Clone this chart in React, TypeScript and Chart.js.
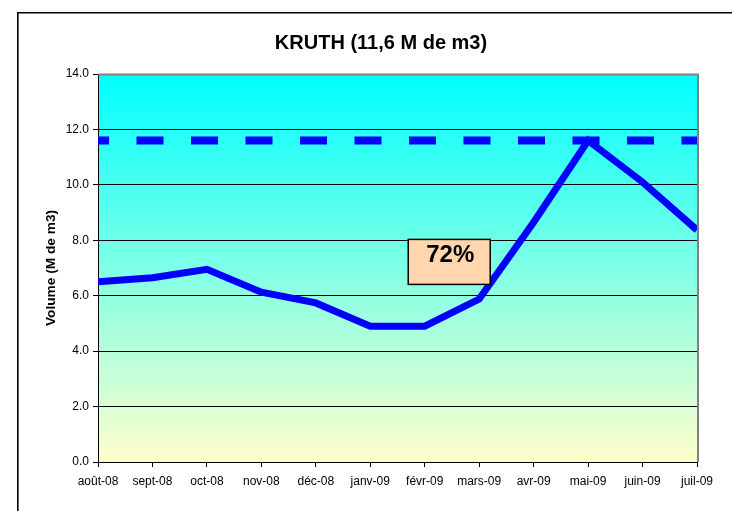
import React, { useEffect, useRef } from "react";
import { Chart, registerables } from "chart.js";

Chart.register(...registerables);

const FONT = "'Liberation Sans', Arial, sans-serif";

const months = ["août-08", "sept-08", "oct-08", "nov-08", "déc-08", "janv-09", "févr-09", "mars-09", "avr-09", "mai-09", "juin-09", "juil-09"];
const volumes = [6.5, 6.65, 6.95, 6.13, 5.74, 4.9, 4.9, 5.88, 8.65, 11.6, 10.1, 8.37];
const capacity = 11.6;
const capacityLine = months.map(() => capacity);
const yTicks = [0, 2, 4, 6, 8, 10, 12, 14];
const chartTitle = "KRUTH (11,6 M de m3)";
const yTitle = "Volume (M de m3)";
const fillLabel = "72%";
const labelAnchorIndex = 6.45;
const labelAnchorValue = 7.22;

const decor = {
  id: "decor",
  beforeDraw(chart: any) {
    const { ctx, chartArea: a } = chart;
    ctx.save();
    // outer frame
    ctx.strokeStyle = "#000";
    ctx.lineWidth = 1.6;
    ctx.beginPath();
    ctx.moveTo(17.8, chart.height + 5);
    ctx.lineTo(17.8, 12.8);
    ctx.lineTo(chart.width + 5, 12.8);
    ctx.stroke();
    // plot background gradient
    const g = ctx.createLinearGradient(0, a.top, 0, a.bottom);
    g.addColorStop(0, "#00FFFF");
    g.addColorStop(1, "#FFFFCC");
    ctx.fillStyle = g;
    ctx.fillRect(a.left, a.top, a.right - a.left, a.bottom - a.top);
    // title
    ctx.fillStyle = "#000";
    ctx.font = "bold 20px " + FONT;
    ctx.textAlign = "center";
    ctx.textBaseline = "middle";
    ctx.fillText(chartTitle, 381, 43.5);
    ctx.restore();
  },
  afterDatasetsDraw(chart: any) {
    const { ctx, chartArea: a, scales } = chart;
    ctx.save();
    // gray top/right plot border
    ctx.strokeStyle = "#808080";
    ctx.lineWidth = 2;
    ctx.beginPath();
    ctx.moveTo(a.left, a.top + 0.5);
    ctx.lineTo(a.right + 1, a.top + 0.5);
    ctx.lineTo(a.right + 1, a.bottom);
    ctx.stroke();
    // label box
    const cx = scales.x.getPixelForValue(labelAnchorIndex);
    const cy = scales.y.getPixelForValue(labelAnchorValue);
    const w = 82, h = 45;
    ctx.fillStyle = "#FFD6AE";
    ctx.fillRect(cx - w / 2, cy - h / 2, w, h);
    ctx.strokeStyle = "#000";
    ctx.lineWidth = 1.5;
    ctx.strokeRect(cx - w / 2, cy - h / 2, w, h);
    ctx.fillStyle = "#000";
    ctx.font = "bold 24px " + FONT;
    ctx.textAlign = "center";
    ctx.textBaseline = "middle";
    ctx.fillText(fillLabel, cx + 1, cy - 7);
    ctx.restore();
  },
};

export default function App() {
  const ref = useRef<HTMLCanvasElement>(null);
  useEffect(() => {
    if (!ref.current) return;
    Chart.defaults.font.family = FONT;
    const chart = new Chart(ref.current, {
      type: "line",
      data: {
        labels: months,
        datasets: [
          {
            label: "Capacité",
            data: capacityLine,
            borderColor: "#0000FF",
            borderWidth: 8,
            borderDash: [27, 27.5],
            borderDashOffset: 16,
            borderCapStyle: "butt",
            pointRadius: 0,
            fill: false,
            tension: 0,
            clip: 0,
          },
          {
            label: "Volume",
            data: volumes,
            borderColor: "#0000FF",
            borderWidth: 7,
            pointRadius: 0,
            fill: false,
            tension: 0,
            clip: 0,
          },
        ],
      },
      options: {
        responsive: false,
        animation: false,
        devicePixelRatio: 1,
        layout: { padding: { top: 74, right: 35, bottom: 0, left: 40 } },
        plugins: {
          legend: { display: false },
          tooltip: { enabled: false },
          title: { display: false },
        },
        scales: {
          x: {
            type: "category",
            offset: false,
            grid: { drawOnChartArea: false, tickLength: 5, tickColor: "#000" },
            border: { color: "#000", width: 1 },
            ticks: { color: "#000", font: { family: FONT, size: 12 }, padding: 7, maxRotation: 0, autoSkip: false },
            afterFit(s: any) { s.height = 49; },
          },
          y: {
            min: 0,
            max: 14,
            afterBuildTicks(s: any) { s.ticks = yTicks.map((v) => ({ value: v })); },
            grid: {
              color: (c: any) => (c.tick && c.tick.value === 14 ? "rgba(0,0,0,0)" : "#000"),
              tickLength: 5,
              tickColor: "#000",
              lineWidth: 1,
            },
            border: { color: "#000", width: 1 },
            ticks: { color: "#000", font: { family: FONT, size: 12 }, padding: 4, callback: (v: any) => Number(v).toFixed(1) },
            title: { display: true, text: yTitle, color: "#000", font: { family: FONT, size: 13.7, weight: "bold" }, padding: { top: 3.5, bottom: 0 } },
            afterFit(s: any) { s.width = 58; },
          },
        },
      } as any,
      plugins: [decor],
    });
    return () => chart.destroy();
  }, []);
  return (
    <div style={{ position: "absolute", left: 0, top: 0, width: 732, height: 511 }}>
      <canvas ref={ref} width={732} height={511} />
    </div>
  );
}
